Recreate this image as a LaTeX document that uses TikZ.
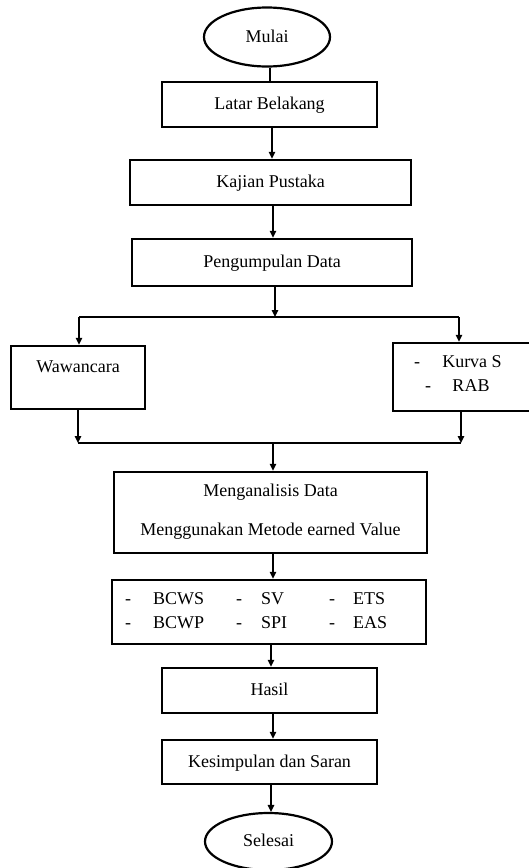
\documentclass[tikz,border=0pt]{standalone}
\usepackage{fontspec}
\setmainfont{Liberation Serif}
\usetikzlibrary{arrows.meta,shapes.geometric}
\begin{document}
\begin{tikzpicture}[x=1pt,y=-1pt,
  lbl/.style={font=\fontsize{18}{22}\selectfont, inner sep=0pt, text height=11pt, text depth=1pt},
  box/.style={draw, rectangle, line width=2.4pt, inner sep=0pt, lbl},
  oval/.style={draw, ellipse, line width=2.2pt, inner sep=0pt, lbl},
  conn/.style={line width=1.3pt},
  arr/.style={conn, -{Triangle[length=7pt,width=6.5pt]}}]
\useasboundingbox (0,0) rectangle (529,868);
\clip (0,0) rectangle (529,868);
\coordinate (sp) at (273,0);
% nodes
\node[oval, minimum width=126, minimum height=59] (mulai) at (267,37) {Mulai};
\node[box, minimum width=215, minimum height=45] (latar) at (269.5,104.5) {Latar Belakang};
\node[box, minimum width=281, minimum height=45] (kajian) at (270.5,182.5) {Kajian Pustaka};
\node[box, minimum width=280, minimum height=47] (peng) at (272,262.5) {Pengumpulan Data};
\node[box, minimum width=134, minimum height=63] (waw) at (78,377.5) {};
\node[lbl] (wawt) at (78,367) {Wawancara};
\node[box, minimum width=142, minimum height=68] (kur) at (464,377) {};
\node[lbl] (kd1) at (417,362) {-};
\node[lbl] (kt1) at (472,362) {Kurva S};
\node[lbl] (kd2) at (428,386) {-};
\node[lbl] (kt2) at (471,386) {RAB};
\node[box, minimum width=313, minimum height=81] (anal) at (270.5,512.5) {};
\node[lbl] (at1) at (270.5,491) {Menganalisis Data};
\node[lbl] (at2) at (270.5,530) {Menggunakan Metode earned Value};
\node[box, minimum width=314, minimum height=64] (ev) at (269,612) {};
\node[lbl] (d11) at (128,599) {-};
\node[lbl, anchor=west] (e11) at (153,599) {BCWS};
\node[lbl] (d12) at (239,599) {-};
\node[lbl, anchor=west] (e12) at (261,599) {SV};
\node[lbl] (d13) at (332,599) {-};
\node[lbl, anchor=west] (e13) at (353,599) {ETS};
\node[lbl] (d21) at (128,623) {-};
\node[lbl, anchor=west] (e21) at (153,623) {BCWP};
\node[lbl] (d22) at (239,623) {-};
\node[lbl, anchor=west] (e22) at (261,623) {SPI};
\node[lbl] (d23) at (332,623) {-};
\node[lbl, anchor=west] (e23) at (353,623) {EAS};
\node[box, minimum width=215, minimum height=45] (hasil) at (269.5,690.5) {Hasil};
\node[box, minimum width=215, minimum height=44] (kes) at (269.5,762) {Kesimpulan dan Saran};
\node[oval, minimum width=127, minimum height=57] (sel) at (268.5,841.5) {Selesai};
% junction coordinates
\coordinate (split) at (275,317);
\coordinate (splL) at (79,317);
\coordinate (splR) at (459,317);
\coordinate (mrg) at (273,443);
\coordinate (mrgL) at (78,443);
\coordinate (mrgR) at (461,443);
% connectors
\draw[conn] (mulai.south -| 270,0) -- (latar.north -| 270,0);
\draw[arr] (latar.south -| 272,0) -- (kajian.north -| 272,0);
\draw[arr] (kajian.south -| sp) -- (peng.north -| sp);
\draw[arr] (peng.south -| split) -- (split);
\draw[conn] (splL) -- (splR);
\draw[arr] (splL) -- (waw.north -| splL);
\draw[arr] (splR) -- (kur.north -| splR);
\draw[arr] (waw.south -| mrgL) -- (mrgL);
\draw[arr] (kur.south -| mrgR) -- (mrgR);
\draw[conn] (mrgL) -- (mrgR);
\draw[arr] (mrg) -- (anal.north -| mrg);
\draw[arr] (anal.south -| mrg) -- (ev.north -| mrg);
\draw[arr] (ev.south -| 271,0) -- (hasil.north -| 271,0);
\draw[arr] (hasil.south -| sp) -- (kes.north -| sp);
\draw[arr] (kes.south -| 271,0) -- (sel.north -| 271,0);
\end{tikzpicture}
\end{document}
